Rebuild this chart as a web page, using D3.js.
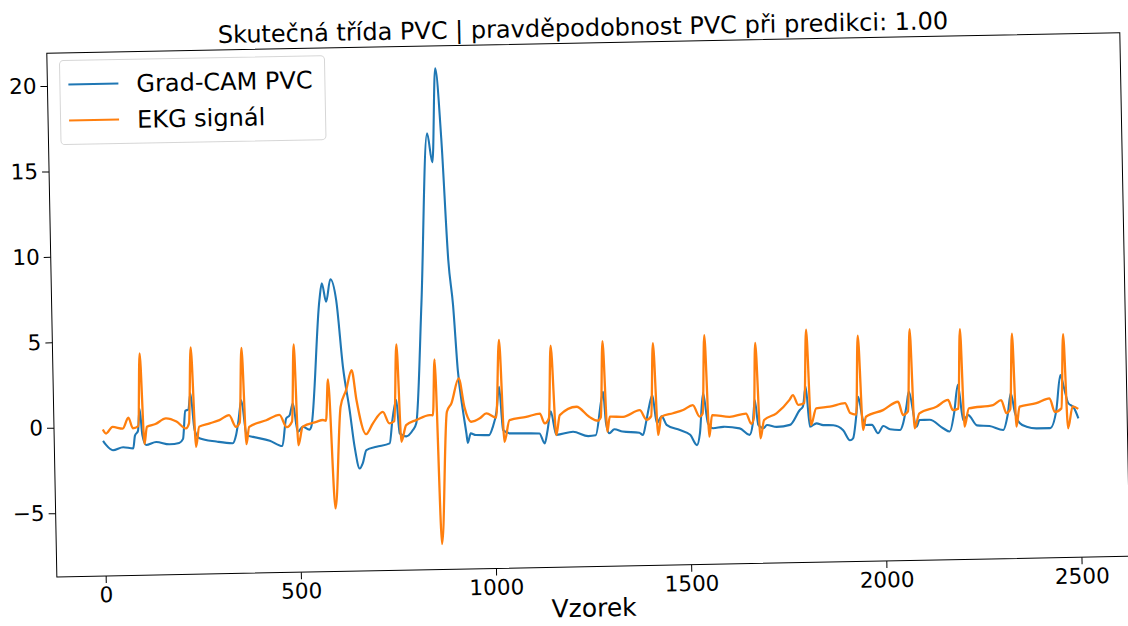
<!DOCTYPE html>
<html>
<head>
<meta charset="utf-8">
<script src="https://cdn.jsdelivr.net/npm/d3@7"></script>
<style>
  body { margin: 0; background: #fff; }
  svg { display: block; }
  text { font-family: "DejaVu Sans", sans-serif; fill: #000; }
</style>
</head>
<body>
<svg id="svg" width="1128" height="626"></svg>
<script>
// ---- data (sample index, value) ----
const ekgX = [0, 8, 25, 51, 66, 77, 91, 98, 106, 113, 135, 162, 189, 213, 221, 229, 238, 247, 274, 299, 324, 341, 351, 359, 367, 375, 419, 453, 471, 485, 493, 500, 512, 547, 564, 572, 579, 592, 610, 625, 640, 651, 674, 692, 718, 734, 747, 756, 764, 777, 803, 838, 846, 853, 863, 882, 894, 914, 927, 944, 966, 983, 1008, 1019, 1028, 1042, 1085, 1120, 1132, 1143, 1151, 1161, 1171, 1214, 1247, 1268, 1276, 1284, 1292, 1299, 1333, 1376, 1393, 1405, 1413, 1422, 1431, 1461, 1487, 1512, 1529, 1537, 1545, 1553, 1561, 1606, 1648, 1661, 1668, 1675, 1684, 1694, 1726, 1760, 1769, 1782, 1798, 1806, 1814, 1828, 1863, 1902, 1915, 1930, 1938, 1947, 1955, 1999, 2038, 2050, 2063, 2071, 2079, 2092, 2136, 2166, 2178, 2192, 2200, 2207, 2219, 2281, 2302, 2315, 2325, 2333, 2340, 2349, 2392, 2426, 2439, 2456, 2464, 2472, 2485, 2499];
const ekgY = [-0.16, -0.4, -0.02, -0.13, 0.5, -0.12, 0.0, 4.25, -1.06, -0.05, 0.1, 0.42, 0.22, -0.19, 0.1, 4.55, -1.28, -0.1, 0.08, 0.26, 0.54, -0.15, 0.1, 4.46, -1.18, -0.17, 0.2, 0.5, -0.23, 0.1, 4.6, -1.3, -0.22, 0.05, 0.15, 0.1, 2.52, -5.04, 0.9, 1.87, 3.04, 1.28, -0.73, -0.1, 0.56, -0.12, 0.0, 4.49, -1.21, -0.24, 0.04, 0.32, 0.3, 3.57, -7.24, 0.49, 0.98, 2.43, 0.76, -0.12, 0.07, 0.35, 0.1, 4.63, -1.33, -0.07, 0.1, 0.28, -0.3, 0.0, 4.24, -1.0, 0.17, 0.64, 0.02, -0.2, 0.0, 4.45, -0.85, 0.02, 0.0, 0.37, -0.2, 0.0, 4.28, -1.1, -0.04, 0.15, 0.33, 0.6, -0.08, 0.1, 4.68, -1.26, 0.0, -0.12, 0.05, -0.55, -0.2, 4.17, -1.42, -0.35, 0.03, 0.8, 1.08, 0.5, 0.6, 4.89, -0.69, 0.28, 0.36, 0.55, -0.04, -0.14, 4.48, -1.04, -0.27, 0.1, 0.57, -0.21, 0.0, 4.8, -1.0, -0.13, 0.24, 0.62, 0.02, 0.1, 4.75, -0.96, 0.1, 0.27, 0.55, -0.22, 0.0, 4.42, -1.02, 0.15, 0.33, 0.6, -0.2, 0.0, 4.34, -1.17, 0.1, -0.05];

const camX = [0, 8, 25, 51, 77, 82, 90, 95, 101, 110, 136, 170, 195, 205, 212, 220, 226, 235, 247, 290, 332, 341, 348, 356, 368, 384, 427, 459, 470, 479, 488, 499, 512, 529, 534, 561, 568, 578, 590, 604, 618, 633, 644, 656, 664, 674, 700, 734, 742, 753, 760, 777, 794, 803, 822, 845, 857, 869, 881, 893, 903, 912, 923, 931, 934, 942, 955, 989, 998, 1009, 1017, 1025, 1042, 1118, 1131, 1139, 1148, 1161, 1204, 1243, 1262, 1278, 1283, 1289, 1297, 1310, 1331, 1374, 1383, 1391, 1400, 1409, 1419, 1432, 1444, 1478, 1504, 1521, 1529, 1539, 1550, 1563, 1589, 1631, 1656, 1665, 1671, 1679, 1692, 1701, 1726, 1760, 1786, 1794, 1802, 1811, 1828, 1845, 1871, 1896, 1913, 1921, 1930, 1936, 1947, 1955, 1970, 1985, 1999, 2016, 2042, 2050, 2059, 2066, 2084, 2092, 2118, 2152, 2169, 2181, 2192, 2204, 2217, 2239, 2271, 2306, 2318, 2327, 2337, 2349, 2366, 2392, 2426, 2443, 2455, 2463, 2474, 2487, 2499];
const camY = [-0.82, -1.08, -1.38, -1.22, -1.3, -0.55, -0.28, 1.03, -0.53, -1.11, -0.95, -1.1, -1.03, -0.8, 0.84, 0.92, 1.86, -0.29, -0.78, -0.99, -1.11, -0.63, 0.24, 1.4, -0.65, -0.76, -1.0, -1.33, 0.28, 0.46, 1.16, -0.52, -0.22, -0.4, -0.23, 7.17, 8.15, 7.06, 8.37, 7.13, 3.24, 0.7, -1.46, -2.73, -2.43, -1.66, -1.48, -1.29, 0.06, 1.23, -0.72, -0.9, -0.54, -0.15, 6.8, 16.8, 15.1, 20.6, 16.5, 9.37, 6.73, 2.92, 0.57, -0.8, -1.35, -0.8, -0.9, -0.92, -0.5, 0.44, 1.9, -0.64, -0.84, -0.88, -1.47, -0.7, 0.4, -0.98, -0.82, -1.09, -1.05, 1.0, 1.48, -0.36, -0.95, -0.72, -0.86, -0.95, -1.09, -0.41, 0.56, 1.24, -0.41, -0.02, -0.52, -0.84, -1.13, -1.74, -1.05, 1.3, -0.47, -0.77, -0.7, -0.81, -1.2, -0.52, 0.83, -0.63, -0.83, -0.64, -0.76, -0.66, 0.2, 0.39, 1.56, -0.79, -0.6, -0.71, -0.73, -1.03, -1.63, -1.52, -0.25, 0.91, -0.45, -0.75, -0.75, -1.25, -0.83, -1.03, -1.08, -0.69, 0.28, 1.15, -0.91, -0.52, -0.52, -1.03, -1.23, -0.16, 1.49, -0.58, -0.29, -0.9, -0.95, -1.2, -0.33, 0.94, -0.23, -0.82, -1.03, -1.14, -1.14, -0.08, 1.95, 1.26, 0.29, 0.06, -0.6];

const xTicks = [0, 500, 1000, 1500, 2000, 2500];
const yTicks = [-5, 0, 5, 10, 15, 20];
const seriesNames = ["Grad-CAM PVC", "EKG signál"];
const colors = ["#1f77b4", "#ff7f0e"];
const title = "Skutečná třída PVC | pravděpodobnost PVC při predikci: 1.00";
const xLabel = "Vzorek";

// ---- layout (the reference figure is slightly tilted) ----
const W = 1073.2, H = 523.7;
const ox = 46.8, oy = 53.3, tilt = -1.1;

const x = d3.scaleLinear().domain([-125, 2624]).range([0, W]);
const y = d3.scaleLinear().domain([-8.73, 21.91]).range([H, 0]);

const svg = d3.select("#svg");
const g = svg.append("g")
    .attr("transform", `translate(${ox},${oy}) rotate(${tilt})`);

// clip to the axes
g.append("clipPath").attr("id", "clip")
  .append("rect").attr("width", W).attr("height", H);

const line = d3.line()
    .x(d => x(d[0]))
    .y(d => y(d[1]))
    .curve(d3.curveMonotoneX);

const series = [
  d3.zip(camX, camY),
  d3.zip(ekgX, ekgY)
];

g.append("g").attr("clip-path", "url(#clip)")
  .selectAll("path")
  .data(series)
  .join("path")
    .attr("d", line)
    .attr("fill", "none")
    .attr("stroke", (d, i) => colors[i])
    .attr("stroke-width", (d, i) => i ? 2.3 : 2.1)
    .attr("stroke-linejoin", "round");

// axes
const xAxis = g.append("g")
    .attr("transform", `translate(0,${H})`)
    .call(d3.axisBottom(x).tickValues(xTicks).tickFormat(d3.format("d")).tickSize(7).tickPadding(4));
const yAxis = g.append("g")
    .call(d3.axisLeft(y).tickValues(yTicks).tickFormat(d3.format("d")).tickSize(7).tickPadding(4));

[xAxis, yAxis].forEach(a => {
  a.select(".domain").remove();
  a.selectAll(".tick line").attr("stroke", "#000").attr("stroke-width", 1);
  a.selectAll(".tick text")
    .attr("font-family", "DejaVu Sans")
    .attr("font-size", 21.5)
    .attr("fill", "#000");
});

// frame
g.append("rect")
    .attr("width", W).attr("height", H)
    .attr("fill", "none")
    .attr("stroke", "#000")
    .attr("stroke-width", 1);

// title and label
g.append("text")
    .attr("x", W / 2).attr("y", -7)
    .attr("text-anchor", "middle")
    .attr("font-size", 24)
    .text(title);

g.append("text")
    .attr("x", W / 2).attr("y", H + 50)
    .attr("text-anchor", "middle")
    .attr("font-size", 25)
    .text(xLabel);

// legend
const legend = g.append("g").attr("transform", "translate(12.5,7.6)");
legend.append("rect")
    .attr("width", 265).attr("height", 84)
    .attr("rx", 4)
    .attr("fill", "#fff").attr("fill-opacity", 0.8)
    .attr("stroke", "#d6d6d6");
seriesNames.forEach((name, i) => {
  const ly = 24 + i * 36;
  legend.append("line")
      .attr("x1", 8.5).attr("x2", 58.5)
      .attr("y1", ly).attr("y2", ly)
      .attr("stroke", colors[i]).attr("stroke-width", 2.1);
  legend.append("text")
      .attr("x", 76.5).attr("y", ly + 8.5)
      .attr("font-size", 24)
      .text(name);
});
</script>
</body>
</html>
